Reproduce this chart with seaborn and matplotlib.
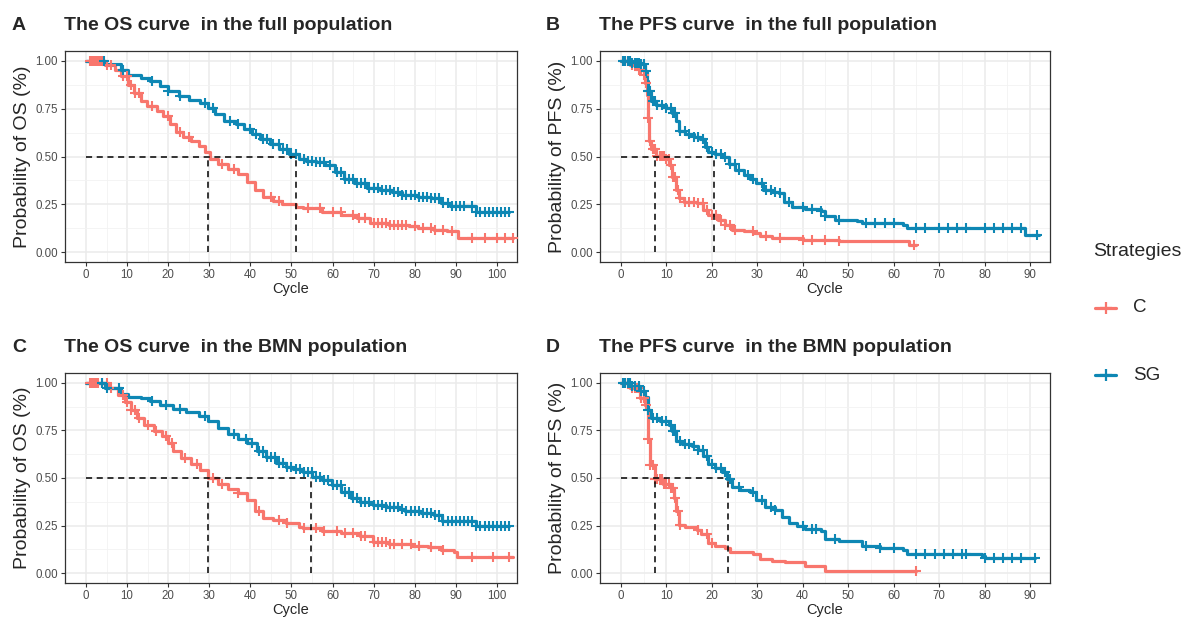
import numpy as np
import pandas as pd
import matplotlib
matplotlib.use("Agg")
import matplotlib.pyplot as plt
import seaborn as sns
from matplotlib.lines import Line2D
from matplotlib.ticker import MultipleLocator

sns.set_theme(style="whitegrid")
plt.rcParams['font.family'] = ['Liberation Sans', 'DejaVu Sans']

groups = ['C', 'SG']
pal = {'C': '#F8766D', 'SG': '#0E87B4'}

# --- A: OS, full population ---
os_full_sg_t = [0, 4.7, 8.6, 10.2, 13.3, 15.7, 18, 20, 22.7, 25.1, 27.8, 29.8, 31.4, 33.7, 36.5, 38.4, 40.4, 42.4, 44.7, 47.1, 49.4, 51.8, 53.5, 55.9, 58.2, 60.5, 62.9, 65.2, 68.4, 71.5, 74.6, 77, 80.9, 84, 86.3, 88.7, 94.9, 103]
os_full_sg_s = [1.0, 0.983, 0.953, 0.924, 0.91, 0.893, 0.867, 0.845, 0.816, 0.798, 0.78, 0.755, 0.72, 0.686, 0.669, 0.643, 0.617, 0.591, 0.566, 0.54, 0.514, 0.488, 0.479, 0.471, 0.453, 0.419, 0.384, 0.359, 0.333, 0.324, 0.316, 0.298, 0.29, 0.281, 0.255, 0.242, 0.212, 0.212]
os_full_sg_cens = [4.5, 9, 16, 20, 23, 29, 31, 35, 37, 40, 41.5, 43, 44, 45.5, 47, 48, 49, 50, 51, 53, 54, 55, 56, 57, 58, 59.5, 61, 62, 63, 64, 65, 66, 67, 68, 69, 70, 71, 72, 73, 74, 75, 76, 77, 78, 79, 80, 81, 82, 83, 84, 85, 86, 87, 88, 89, 90, 91, 92, 94, 95, 96, 97, 98, 99, 100, 101, 102, 103]
os_full_c_t = [0, 4.7, 7.1, 8.6, 10.2, 11.8, 13.3, 14.9, 17.3, 18.8, 20.4, 21.9, 23.5, 25.5, 27.5, 29, 30.2, 32.2, 34.5, 36.9, 39.2, 41.2, 43.1, 45.5, 47.8, 51, 52.7, 57.4, 62.1, 66, 69.1, 73.8, 78.5, 80.9, 84.8, 87.9, 90.6, 104]
os_full_c_s = [1.0, 0.98, 0.953, 0.919, 0.876, 0.833, 0.79, 0.764, 0.738, 0.712, 0.669, 0.626, 0.603, 0.583, 0.557, 0.522, 0.488, 0.462, 0.436, 0.41, 0.367, 0.324, 0.29, 0.269, 0.252, 0.234, 0.229, 0.212, 0.195, 0.178, 0.152, 0.143, 0.134, 0.126, 0.117, 0.109, 0.076, 0.076]
os_full_c_cens = [1, 1.5, 2, 2.5, 3, 3.5, 4, 5, 6, 9, 10, 11, 12, 13, 16, 20, 23, 25, 33, 36, 45, 47, 54, 57, 60, 62, 65, 66.5, 68, 70, 71, 72, 73, 74, 75, 76, 77, 78, 80, 82, 84, 85, 87, 89, 94, 97, 100, 102, 104]

# --- B: PFS, full population ---
pfs_full_sg_t = [0, 2.1, 4.3, 5.3, 5.7, 6, 6.7, 7.8, 9.9, 11.3, 12.1, 12.8, 14.2, 16, 17.4, 18.4, 19.1, 20.6, 22.3, 23.8, 25.2, 27, 28.4, 29.8, 31.2, 33.3, 34.8, 35.8, 37.6, 40.4, 44, 45, 47, 52, 53, 62, 63, 88.8, 92]
pfs_full_sg_s = [1.0, 0.99, 0.985, 0.945, 0.893, 0.841, 0.79, 0.772, 0.755, 0.729, 0.686, 0.634, 0.617, 0.603, 0.591, 0.548, 0.522, 0.514, 0.497, 0.462, 0.428, 0.402, 0.384, 0.359, 0.324, 0.316, 0.307, 0.264, 0.238, 0.224, 0.215, 0.19, 0.17, 0.16, 0.15, 0.14, 0.125, 0.09, 0.09]
pfs_full_sg_cens = [0.5, 1, 1.5, 2, 2.5, 3, 3.5, 4, 4.5, 5, 5.5, 6, 6.5, 7, 7.5, 8, 9, 10, 11, 11.5, 12, 13, 14, 15, 16, 17, 18, 19, 20, 21, 22, 23, 24, 25, 26, 28, 29, 31, 32, 33, 34, 35, 37, 40, 42, 44, 45, 48, 54, 56, 58, 60, 65, 67, 70, 72, 74, 76, 80, 82, 84, 86, 88, 91.5]
pfs_full_c_t = [0, 2.1, 3.9, 5, 5.3, 5.7, 6, 6.2, 6.7, 7.8, 9.6, 10.6, 11.3, 12.1, 12.8, 13.8, 16.7, 18.1, 19.1, 21.3, 23, 24.5, 27, 29.1, 30.5, 33.3, 40, 48, 63.3, 65]
pfs_full_c_s = [1.0, 0.98, 0.953, 0.928, 0.884, 0.824, 0.703, 0.583, 0.54, 0.505, 0.488, 0.453, 0.393, 0.324, 0.281, 0.264, 0.255, 0.221, 0.195, 0.169, 0.143, 0.117, 0.109, 0.10, 0.083, 0.074, 0.065, 0.06, 0.037, 0.037]
pfs_full_c_cens = [0.5, 1, 1.5, 2, 2.5, 3, 3.5, 4, 4.5, 5, 5.5, 6, 6.5, 7, 7.5, 8, 8.5, 9, 9.5, 10, 10.5, 11, 11.5, 12, 12.5, 13, 14, 15, 16, 17, 18, 19, 20, 21, 22, 23, 24, 25, 29, 32, 35, 40, 42, 45, 48, 64.5]

# --- C: OS, BMN population ---
os_bmn_sg_t = [0, 4.7, 8.6, 10.2, 13.3, 15.7, 18, 21.2, 24.3, 27.5, 29.8, 32.2, 34.5, 36.9, 39.2, 41.6, 43.9, 46.3, 48.6, 50.4, 52.7, 55.1, 57.4, 59.8, 62.1, 64.5, 66.8, 69.9, 73, 76.2, 77.7, 81.6, 84.8, 86.7, 94.9, 103]
os_bmn_sg_s = [1.0, 0.971, 0.941, 0.924, 0.919, 0.907, 0.884, 0.862, 0.845, 0.824, 0.798, 0.764, 0.729, 0.703, 0.683, 0.643, 0.609, 0.579, 0.557, 0.548, 0.531, 0.505, 0.488, 0.462, 0.428, 0.397, 0.376, 0.359, 0.345, 0.336, 0.324, 0.316, 0.307, 0.276, 0.247, 0.247]
os_bmn_sg_cens = [4, 5, 8, 16, 19.5, 23, 29, 36, 39, 40.5, 42, 43, 44, 45, 46, 47, 48, 49, 50, 51, 52, 53, 54, 55, 56, 57, 58, 59, 60, 61, 62, 63, 64, 65, 66, 67, 68, 69, 70, 71, 72, 73, 74, 75, 76, 77, 78, 79, 80, 81, 82, 83, 84, 85, 86, 87, 88, 89, 90, 91, 92, 93, 94, 95, 96, 97, 98, 99, 100, 101, 102, 103]
os_bmn_c_t = [0, 5.5, 7.8, 9.4, 11, 12.5, 14.1, 16.5, 18.4, 20, 21.2, 23.1, 25.5, 27.8, 29.8, 32.2, 34.5, 36.9, 39.2, 41.2, 43.1, 45.5, 48.6, 51.8, 52.7, 57.4, 62.1, 66.8, 69.9, 73.8, 79.3, 83.2, 86.3, 89.5, 90.2, 104]
os_bmn_c_s = [1.0, 0.971, 0.936, 0.902, 0.859, 0.816, 0.781, 0.747, 0.721, 0.686, 0.643, 0.603, 0.574, 0.54, 0.50, 0.471, 0.441, 0.419, 0.384, 0.324, 0.29, 0.278, 0.264, 0.245, 0.238, 0.224, 0.212, 0.195, 0.166, 0.152, 0.143, 0.138, 0.121, 0.109, 0.085, 0.085]
os_bmn_c_cens = [1, 1.5, 2, 2.5, 3, 4, 5, 6, 9, 10, 11, 12, 13, 15, 17, 19.5, 21, 24, 27, 31, 33, 37, 42, 47, 49, 53, 56, 58, 61, 63, 65, 67, 68, 70, 71, 72, 73, 74, 75, 77, 79, 81, 84, 87, 94, 99, 103]

# --- D: PFS, BMN population ---
pfs_bmn_sg_t = [0, 2.1, 4.3, 5.3, 6, 6.7, 8.5, 10.6, 11.3, 12.1, 13.5, 15.6, 17, 18.1, 19.1, 20.6, 22.3, 23.4, 24.5, 26.2, 28.4, 29.8, 31.6, 34, 35.5, 36.9, 38.7, 40.4, 44, 45, 48, 53, 57, 62, 63, 79.5, 80, 91]
pfs_bmn_sg_s = [1.0, 0.985, 0.96, 0.928, 0.859, 0.816, 0.798, 0.781, 0.747, 0.695, 0.678, 0.666, 0.648, 0.617, 0.574, 0.552, 0.531, 0.497, 0.455, 0.436, 0.428, 0.384, 0.35, 0.333, 0.297, 0.264, 0.247, 0.234, 0.22, 0.18, 0.17, 0.14, 0.13, 0.12, 0.10, 0.09, 0.08, 0.08]
pfs_bmn_sg_cens = [0.5, 1, 1.5, 2, 2.5, 3, 4, 4.5, 5, 6, 7, 8, 9, 10, 11, 11.5, 12, 13, 14, 15, 16, 17, 18, 19, 20, 21, 22, 23, 24, 26, 29, 31, 33, 34, 40, 42, 43, 47, 54, 57, 60, 65, 67, 69, 71, 73, 75, 76, 80, 82, 84, 86, 88, 91]
pfs_bmn_c_t = [0, 2.1, 4.3, 5.3, 5.7, 6, 6.5, 7.4, 9.2, 11, 11.7, 12.1, 12.8, 14.2, 16.7, 17.7, 19.1, 20.6, 23, 24.1, 29.1, 30.5, 33.3, 36.2, 40.4, 45, 65]
pfs_bmn_c_s = [1.0, 0.971, 0.919, 0.884, 0.867, 0.703, 0.566, 0.497, 0.471, 0.445, 0.393, 0.324, 0.255, 0.241, 0.229, 0.203, 0.16, 0.143, 0.131, 0.109, 0.103, 0.074, 0.066, 0.057, 0.04, 0.01, 0.01]
pfs_bmn_c_cens = [0.5, 1, 1.5, 2, 2.5, 3, 3.5, 4, 4.5, 5, 5.5, 6, 6.5, 7, 7.5, 8, 8.5, 9, 9.5, 10, 10.5, 11, 11.5, 12, 12.5, 13, 17, 19, 20, 65]

medians_a = [29.8, 51.0]
medians_b = [7.6, 20.4]
medians_c = [29.8, 54.7]
medians_d = [7.4, 23.6]

W, H = 1184, 621
fig = plt.figure(figsize=(W / 100, H / 100), dpi=100)


def px_axes(left, top, right, bottom):
    return fig.add_axes([left / W, 1 - bottom / H, (right - left) / W, (bottom - top) / H])


def km_panel(ax, curves, medians, xlim, xmax_tick, ylab):
    frames = []
    for g in groups:
        t, s, c = curves[g]
        frames.append(pd.DataFrame({'Cycle': t, 'Surv': s, 'Strategies': g}))
    df = pd.concat(frames, ignore_index=True)
    sns.lineplot(data=df, x='Cycle', y='Surv', hue='Strategies', palette=pal,
                 drawstyle='steps-post', estimator=None, sort=False,
                 linewidth=2.3, ax=ax, legend=False, zorder=2)
    for g in groups:
        t, s, c = curves[g]
        idx = np.searchsorted(np.asarray(t), np.asarray(c), side='right') - 1
        cy = np.asarray(s)[idx]
        sns.scatterplot(x=c, y=cy, marker='+', s=60, color=pal[g],
                        linewidth=1.5, ax=ax, legend=False, zorder=3)
    m_hi = max(medians)
    ax.plot([0, m_hi], [0.5, 0.5], ls=(0, (4, 3)), color='black', lw=1.1, zorder=4)
    for m in medians:
        ax.plot([m, m], [0, 0.5], ls=(0, (4, 3)), color='black', lw=1.1, zorder=4)

    ax.set_xlim(*xlim)
    ax.set_ylim(-0.052, 1.052)
    ax.set_xticks(np.arange(0, xmax_tick + 1, 10))
    ax.set_yticks([0, 0.25, 0.5, 0.75, 1.0])
    ax.set_yticklabels(['0.00', '0.25', '0.50', '0.75', '1.00'])
    ax.xaxis.set_minor_locator(MultipleLocator(5))
    ax.yaxis.set_minor_locator(MultipleLocator(0.125))
    ax.grid(which='major', color='#EBEBEB', lw=1.1)
    ax.grid(which='minor', color='#F2F2F2', lw=0.6)
    ax.set_axisbelow(True)
    ax.set_facecolor('white')
    for sp in ax.spines.values():
        sp.set_color('#333333')
        sp.set_linewidth(0.9)
    ax.tick_params(which='major', length=3, width=0.8, color='#333333',
                   labelsize=8.3, labelcolor='#4D4D4D', pad=2, left=True, bottom=True)
    ax.tick_params(which='minor', length=0)
    ax.set_xlabel('Cycle', fontsize=10.5, labelpad=1)
    ax.set_ylabel(ylab, fontsize=14, labelpad=3)


ax_a = px_axes(65, 51, 517, 262)
ax_b = px_axes(600, 51, 1050, 262)
ax_c = px_axes(65, 373, 517, 583)
ax_d = px_axes(600, 373, 1050, 583)

os_xlim = (-5.1, 104.9)
pfs_xlim = (-4.6, 94.4)

km_panel(ax_a, {'C': (os_full_c_t, os_full_c_s, os_full_c_cens),
                'SG': (os_full_sg_t, os_full_sg_s, os_full_sg_cens)},
         medians_a, os_xlim, 100, 'Probability of OS (%)')
km_panel(ax_b, {'C': (pfs_full_c_t, pfs_full_c_s, pfs_full_c_cens),
                'SG': (pfs_full_sg_t, pfs_full_sg_s, pfs_full_sg_cens)},
         medians_b, pfs_xlim, 90, 'Probability of PFS (%)')
km_panel(ax_c, {'C': (os_bmn_c_t, os_bmn_c_s, os_bmn_c_cens),
                'SG': (os_bmn_sg_t, os_bmn_sg_s, os_bmn_sg_cens)},
         medians_c, os_xlim, 100, 'Probability of OS (%)')
km_panel(ax_d, {'C': (pfs_bmn_c_t, pfs_bmn_c_s, pfs_bmn_c_cens),
                'SG': (pfs_bmn_sg_t, pfs_bmn_sg_s, pfs_bmn_sg_cens)},
         medians_d, pfs_xlim, 90, 'Probability of PFS (%)')

titles = [('A', 'The OS curve  in the full population', 12, 64, 26),
          ('B', 'The PFS curve  in the full population', 546, 599, 26),
          ('C', 'The OS curve  in the BMN population', 12, 64, 347),
          ('D', 'The PFS curve  in the BMN population', 546, 599, 347)]
for letter, title, lx, tx, ty in titles:
    fig.text(lx / W, 1 - ty / H, letter, fontsize=14, fontweight='bold', va='center', ha='left')
    fig.text(tx / W, 1 - ty / H, title, fontsize=14, fontweight='bold', va='center', ha='left')

# legend drawn by hand to sit where the reference puts it
fig.text(1093 / W, 1 - 252 / H, 'Strategies', fontsize=14, va='center', ha='left')
for g, ly in zip(groups, [308, 375]):
    fig.add_artist(Line2D([1095 / W, 1116 / W], [1 - ly / H, 1 - ly / H], color=pal[g], lw=2.3,
                          transform=fig.transFigure))
    fig.add_artist(Line2D([1105.5 / W], [1 - ly / H], color=pal[g], marker='+', markersize=8,
                          mew=1.6, transform=fig.transFigure))
    fig.text(1133 / W, 1 - ly / H, g, fontsize=13.5, va='center', ha='left')

fig.savefig('out.png', dpi=100, facecolor='white')
